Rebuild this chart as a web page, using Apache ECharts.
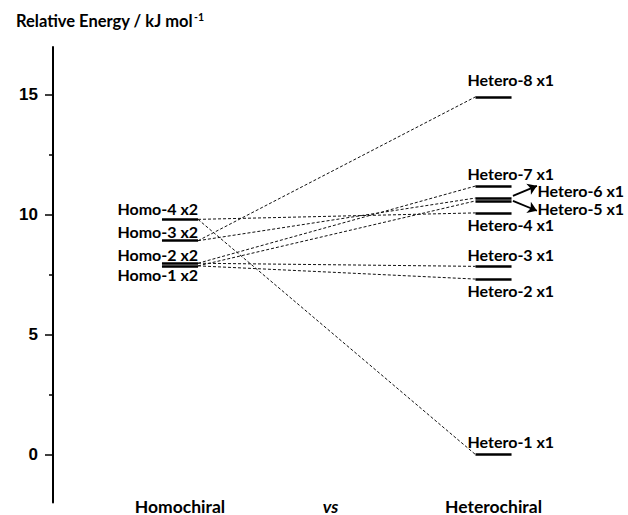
<!DOCTYPE html>
<html>
<head>
<meta charset="utf-8">
<script src="https://cdn.jsdelivr.net/npm/echarts@6/dist/echarts.min.js"></script>
<style>html,body{margin:0;padding:0;background:#fff}#c{width:628px;height:515px}</style>
</head>
<body>
<div id="c"></div>
<script>
// ---- data ----
const homoNames = ['Homo-1 x2', 'Homo-2 x2', 'Homo-3 x2', 'Homo-4 x2'];
const homoEnergies = [7.87, 7.98, 8.92, 9.81];
const heteroNames = ['Hetero-1 x1', 'Hetero-2 x1', 'Hetero-3 x1', 'Hetero-4 x1', 'Hetero-5 x1', 'Hetero-6 x1', 'Hetero-7 x1', 'Hetero-8 x1'];
const heteroEnergies = [0, 7.32, 7.85, 10.08, 10.58, 10.70, 11.20, 14.92];
// correlation links: [homo index, hetero index]
const links = [[3, 0], [0, 1], [1, 2], [3, 3], [0, 4], [2, 5], [1, 6], [2, 7]];
const groupNames = ['Homochiral', 'vs', 'Heterochiral'];
const groupPositions = [1, 1.96, 3];
const yTickLabels = [0, 5, 10, 15];
const yMinorTicks = [2.5, 7.5, 12.5];

// ---- layout / style ----
const homoX = 1, heteroX = 3, barHalf = 0.115;
const xMin = 0.1898, xMax = 3.858;
// label offsets in px [dx, dy]
const homoLabelOff = [[0, 9], [0, -8.5], [0, -9], [0, -10.5]];
const heteroLabelOff = [[-8, -13], [-8, 11], [-8, -12], [-8, 12], [62, 8], [62, -8], [-8, -13], [-8, -17]];
// annotation arrows for Hetero-5/6 (data units: start/end)
const arrows = [
  [[3.124, 10.79], [3.277, 11.21]],
  [[3.124, 10.58], [3.277, 10.17]]
];

const FONT = 'Lato';
const levelData = [];
homoEnergies.forEach(e => levelData.push({coords: [[homoX - barHalf, e], [homoX + barHalf, e]]}));
heteroEnergies.forEach(e => levelData.push({coords: [[heteroX - barHalf, e], [heteroX + barHalf, e]]}));

const linkData = links.map(([h, k]) => ({coords: [[homoX + barHalf, homoEnergies[h]], [heteroX - barHalf, heteroEnergies[k]]]}));

const labelData = [];
homoEnergies.forEach((e, i) => labelData.push({
  name: homoNames[i], value: [homoX + barHalf, e],
  label: {align: 'right', offset: homoLabelOff[i]}
}));
heteroEnergies.forEach((e, i) => labelData.push({
  name: heteroNames[i], value: [heteroX - barHalf, e],
  label: {align: 'left', offset: heteroLabelOff[i]}
}));

const chart = echarts.init(document.getElementById('c'), null, {renderer: 'svg'});
chart.setOption({
  animation: false,
  backgroundColor: '#fff',
  title: {
    left: 11, top: 4,
    text: '{a|Relative Energy / kJ mol}{s|-1}',
    textStyle: {
      rich: {
        a: {fontFamily: FONT, fontWeight: 'bold', fontSize: 16.5, color: '#000', lineHeight: 20, verticalAlign: 'bottom'},
        s: {fontFamily: FONT, fontWeight: 'bold', fontSize: 10.5, color: '#000', lineHeight: 12, verticalAlign: 'top', padding: [2, 0, 0, 1]}
      }
    }
  },
  grid: {left: 53, right: 0, top: 47, bottom: 12, containLabel: false},
  xAxis: {
    type: 'value', min: xMin, max: xMax,
    axisLine: {show: false}, axisTick: {show: false}, splitLine: {show: false},
    axisLabel: {
      customValues: groupPositions,
      margin: -3,
      formatter: v => {
        const i = groupPositions.findIndex(p => Math.abs(p - v) < 1e-6);
        if (i < 0) return '';
        return groupNames[i] === 'vs' ? '{i|vs}' : '{n|' + groupNames[i] + '}';
      },
      rich: {
        n: {fontFamily: FONT, fontWeight: 'bold', fontSize: 17.5, color: '#000', lineHeight: 13},
        i: {fontFamily: FONT, fontWeight: 'bold', fontStyle: 'italic', fontSize: 17.5, color: '#000', lineHeight: 13}
      }
    }
  },
  yAxis: [{
    type: 'value', min: -2, max: 17,
    axisLine: {show: true, lineStyle: {color: '#000', width: 2}},
    axisTick: {show: true, customValues: yTickLabels, length: 8, lineStyle: {color: '#000', width: 1.5}},
    axisLabel: {customValues: yTickLabels, margin: 15, fontFamily: 'Liberation Sans', fontWeight: 'bold', fontSize: 17, color: '#000'},
    splitLine: {show: false}
  }, {
    type: 'value', min: -2, max: 17, position: 'left',
    axisLine: {show: false},
    axisTick: {show: true, customValues: yMinorTicks, length: 4, lineStyle: {color: '#000', width: 1.5}},
    axisLabel: {show: false},
    splitLine: {show: false}
  }],
  series: [
    {
      type: 'lines', coordinateSystem: 'cartesian2d', silent: true, z: 1,
      symbol: 'none',
      lineStyle: {color: '#111', width: 1, type: [3, 2], opacity: 1},
      data: linkData
    },
    {
      type: 'lines', coordinateSystem: 'cartesian2d', silent: true, z: 2,
      symbol: 'none',
      lineStyle: {color: '#000', width: 2.6, opacity: 1},
      data: levelData
    },
    {
      type: 'lines', coordinateSystem: 'cartesian2d', silent: true, z: 3,
      symbol: ['none', 'arrow'], symbolSize: 9,
      lineStyle: {color: '#000', width: 1.8, opacity: 1},
      data: arrows.map(a => ({coords: a}))
    },
    {
      type: 'scatter', symbolSize: 0, silent: true, z: 4,
      itemStyle: {opacity: 1, color: '#000'},
      label: {
        show: true, position: 'inside', verticalAlign: 'middle', formatter: '{b}',
        fontFamily: FONT, fontWeight: 'bold', fontSize: 16, color: '#000', opacity: 1,
        textBorderWidth: 0, textBorderColor: 'transparent', textShadowBlur: 0
      },
      data: labelData
    }
  ]
});
</script>
</body>
</html>
